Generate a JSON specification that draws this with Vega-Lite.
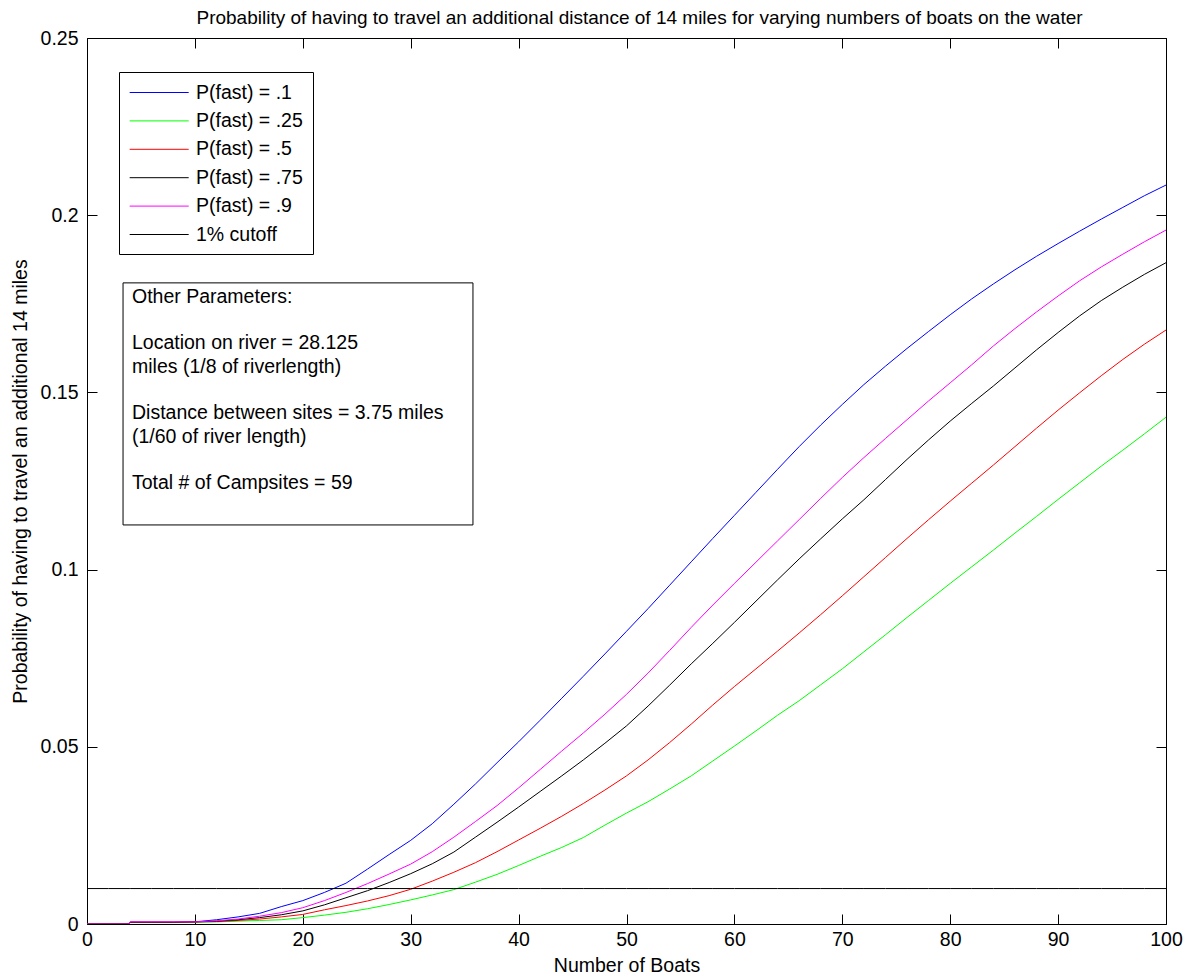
{
  "$schema": "https://vega.github.io/schema/vega-lite/v6.json",
  "width": 1079,
  "height": 886,
  "autosize": "none",
  "padding": {"left": 87, "top": 38, "right": 26, "bottom": 54},
  "background": "white",
  "config": {
    "font": "Liberation Sans",
    "view": {"stroke": "black", "strokeWidth": 1},
    "axis": {"labelColor": "black", "titleColor": "black", "domainColor": "black", "tickColor": "black", "labelFont": "Liberation Sans", "titleFont": "Liberation Sans", "titleFontWeight": "normal", "grid": false},
    "text": {"align": "left", "baseline": "top", "fontSize": 19.5, "lineHeight": 23.3, "font": "Liberation Sans", "color": "black"}
  },
  "title": {
    "text": "Probability of having to travel an additional distance of 14 miles for varying numbers of boats on the water",
    "fontSize": 19,
    "fontWeight": "normal",
    "font": "Liberation Sans",
    "color": "black",
    "anchor": "middle",
    "offset": 0,
    "dx": 13
  },
  "data": {
    "values": [
      {"b": 0, "f1": 0, "f25": 0, "f5": 0, "f75": 0, "f9": 0, "cut": 0.01},
      {"b": 2, "f1": 0, "f25": 0, "f5": 0, "f75": 0, "f9": 0, "cut": 0.01},
      {"b": 3.9, "f1": 0, "f25": 0, "f5": 0, "f75": 0, "f9": 0, "cut": 0.01},
      {"b": 4, "f1": 0.0005, "f25": 0.0004, "f5": 0.0005, "f75": 0.0005, "f9": 0.0006, "cut": 0.01},
      {"b": 6, "f1": 0.0005, "f25": 0.0004, "f5": 0.0005, "f75": 0.0005, "f9": 0.0006, "cut": 0.01},
      {"b": 8, "f1": 0.0005, "f25": 0.0004, "f5": 0.0005, "f75": 0.0005, "f9": 0.0006, "cut": 0.01},
      {"b": 10, "f1": 0.0006, "f25": 0.0005, "f5": 0.0006, "f75": 0.0006, "f9": 0.0006, "cut": 0.01},
      {"b": 12, "f1": 0.0012, "f25": 0.0006, "f5": 0.0007, "f75": 0.0008, "f9": 0.0009, "cut": 0.01},
      {"b": 14, "f1": 0.002, "f25": 0.0008, "f5": 0.001, "f75": 0.0012, "f9": 0.0014, "cut": 0.01},
      {"b": 16, "f1": 0.003, "f25": 0.001, "f5": 0.0014, "f75": 0.0018, "f9": 0.0022, "cut": 0.01},
      {"b": 18, "f1": 0.0049, "f25": 0.0012, "f5": 0.002, "f75": 0.0026, "f9": 0.0032, "cut": 0.01},
      {"b": 20, "f1": 0.0066, "f25": 0.0018, "f5": 0.0027, "f75": 0.0037, "f9": 0.0046, "cut": 0.01},
      {"b": 22, "f1": 0.0089, "f25": 0.0025, "f5": 0.004, "f75": 0.0054, "f9": 0.0066, "cut": 0.01},
      {"b": 24, "f1": 0.0115, "f25": 0.0033, "f5": 0.0052, "f75": 0.0074, "f9": 0.0089, "cut": 0.01},
      {"b": 26, "f1": 0.0155, "f25": 0.0043, "f5": 0.0065, "f75": 0.0094, "f9": 0.0114, "cut": 0.01},
      {"b": 28, "f1": 0.0196, "f25": 0.0055, "f5": 0.008, "f75": 0.0117, "f9": 0.0141, "cut": 0.01},
      {"b": 30, "f1": 0.0236, "f25": 0.0068, "f5": 0.0098, "f75": 0.0142, "f9": 0.0169, "cut": 0.01},
      {"b": 32, "f1": 0.0283, "f25": 0.0082, "f5": 0.0121, "f75": 0.017, "f9": 0.0204, "cut": 0.01},
      {"b": 34, "f1": 0.0338, "f25": 0.0097, "f5": 0.0146, "f75": 0.0203, "f9": 0.0245, "cut": 0.01},
      {"b": 36, "f1": 0.0395, "f25": 0.0118, "f5": 0.0173, "f75": 0.0245, "f9": 0.0289, "cut": 0.01},
      {"b": 38, "f1": 0.0455, "f25": 0.014, "f5": 0.0204, "f75": 0.0287, "f9": 0.0334, "cut": 0.01},
      {"b": 40, "f1": 0.0514, "f25": 0.0165, "f5": 0.0237, "f75": 0.033, "f9": 0.0384, "cut": 0.01},
      {"b": 42, "f1": 0.0575, "f25": 0.0191, "f5": 0.027, "f75": 0.0374, "f9": 0.0436, "cut": 0.01},
      {"b": 44, "f1": 0.0637, "f25": 0.0216, "f5": 0.0304, "f75": 0.0418, "f9": 0.0488, "cut": 0.01},
      {"b": 46, "f1": 0.0699, "f25": 0.0244, "f5": 0.034, "f75": 0.0463, "f9": 0.0539, "cut": 0.01},
      {"b": 48, "f1": 0.0762, "f25": 0.0279, "f5": 0.0378, "f75": 0.051, "f9": 0.0592, "cut": 0.01},
      {"b": 50, "f1": 0.0826, "f25": 0.0313, "f5": 0.0418, "f75": 0.0559, "f9": 0.0648, "cut": 0.01},
      {"b": 52, "f1": 0.089, "f25": 0.0345, "f5": 0.0463, "f75": 0.0615, "f9": 0.0708, "cut": 0.01},
      {"b": 54, "f1": 0.0956, "f25": 0.0381, "f5": 0.0512, "f75": 0.0674, "f9": 0.0772, "cut": 0.01},
      {"b": 56, "f1": 0.1022, "f25": 0.0418, "f5": 0.0564, "f75": 0.0734, "f9": 0.0837, "cut": 0.01},
      {"b": 58, "f1": 0.1088, "f25": 0.046, "f5": 0.0618, "f75": 0.0792, "f9": 0.09, "cut": 0.01},
      {"b": 60, "f1": 0.1153, "f25": 0.0502, "f5": 0.067, "f75": 0.0851, "f9": 0.0961, "cut": 0.01},
      {"b": 62, "f1": 0.1218, "f25": 0.0545, "f5": 0.072, "f75": 0.0911, "f9": 0.1021, "cut": 0.01},
      {"b": 64, "f1": 0.1283, "f25": 0.0589, "f5": 0.077, "f75": 0.0971, "f9": 0.1081, "cut": 0.01},
      {"b": 66, "f1": 0.1347, "f25": 0.063, "f5": 0.0821, "f75": 0.103, "f9": 0.1141, "cut": 0.01},
      {"b": 68, "f1": 0.1408, "f25": 0.0675, "f5": 0.0873, "f75": 0.1087, "f9": 0.1201, "cut": 0.01},
      {"b": 70, "f1": 0.1466, "f25": 0.072, "f5": 0.0926, "f75": 0.1143, "f9": 0.126, "cut": 0.01},
      {"b": 72, "f1": 0.1522, "f25": 0.0768, "f5": 0.098, "f75": 0.1197, "f9": 0.1316, "cut": 0.01},
      {"b": 74, "f1": 0.1574, "f25": 0.0816, "f5": 0.1034, "f75": 0.1254, "f9": 0.137, "cut": 0.01},
      {"b": 76, "f1": 0.1624, "f25": 0.0865, "f5": 0.1088, "f75": 0.1311, "f9": 0.1423, "cut": 0.01},
      {"b": 78, "f1": 0.1672, "f25": 0.0913, "f5": 0.1141, "f75": 0.1366, "f9": 0.1476, "cut": 0.01},
      {"b": 80, "f1": 0.1719, "f25": 0.0961, "f5": 0.1193, "f75": 0.1419, "f9": 0.1527, "cut": 0.01},
      {"b": 82, "f1": 0.1764, "f25": 0.1008, "f5": 0.1244, "f75": 0.1469, "f9": 0.1578, "cut": 0.01},
      {"b": 84, "f1": 0.1806, "f25": 0.1055, "f5": 0.1295, "f75": 0.1518, "f9": 0.1631, "cut": 0.01},
      {"b": 86, "f1": 0.1846, "f25": 0.1103, "f5": 0.1347, "f75": 0.1569, "f9": 0.168, "cut": 0.01},
      {"b": 88, "f1": 0.1884, "f25": 0.115, "f5": 0.1399, "f75": 0.162, "f9": 0.1727, "cut": 0.01},
      {"b": 90, "f1": 0.192, "f25": 0.1198, "f5": 0.145, "f75": 0.1669, "f9": 0.1772, "cut": 0.01},
      {"b": 92, "f1": 0.1955, "f25": 0.1245, "f5": 0.1499, "f75": 0.1716, "f9": 0.1815, "cut": 0.01},
      {"b": 94, "f1": 0.1989, "f25": 0.1292, "f5": 0.1547, "f75": 0.1759, "f9": 0.1854, "cut": 0.01},
      {"b": 96, "f1": 0.2022, "f25": 0.1337, "f5": 0.1593, "f75": 0.1797, "f9": 0.189, "cut": 0.01},
      {"b": 98, "f1": 0.2055, "f25": 0.1383, "f5": 0.1636, "f75": 0.1833, "f9": 0.1925, "cut": 0.01},
      {"b": 100, "f1": 0.2085, "f25": 0.143, "f5": 0.1676, "f75": 0.1866, "f9": 0.1958, "cut": 0.01}
    ]
  },
  "layer": [
    {
      "transform": [{"fold": ["f1", "f25", "f5", "f75", "f9", "cut"], "as": ["s", "p"]}],
      "mark": {"type": "line", "strokeWidth": 1, "clip": true},
      "encoding": {
        "x": {
          "field": "b", "type": "quantitative",
          "scale": {"domain": [0, 100], "nice": false, "zero": false},
          "axis": {"orient": "bottom", "title": "Number of Boats", "values": [0, 10, 20, 30, 40, 50, 60, 70, 80, 90, 100], "labelFontSize": 19.5, "titleFontSize": 19.5, "tickSize": 10, "offset": -10, "domain": false, "labelPadding": 6, "titlePadding": 8, "tickWidth": 1, "labelFlush": false}
        },
        "y": {
          "field": "p", "type": "quantitative",
          "scale": {"domain": [0, 0.25], "nice": false, "zero": true},
          "axis": {"orient": "left", "title": "Probability of having to travel an additional 14 miles", "values": [0, 0.05, 0.1, 0.15, 0.2, 0.25], "format": "~g", "labelFontSize": 19.5, "titleFontSize": 19.5, "tickSize": 10, "offset": -10, "domain": false, "labelPadding": 9, "titlePadding": 10, "tickWidth": 1, "labelFlush": false}
        },
        "color": {
          "field": "s", "type": "nominal",
          "scale": {"domain": ["f1", "f25", "f5", "f75", "f9", "cut"], "range": ["#0000ff", "#00ff00", "#ff0000", "#000000", "#ff00ff", "#000000"]},
          "sort": ["f1", "f25", "f5", "f75", "f9", "cut"],
          "legend": {
            "title": null,
            "orient": "none",
            "legendX": 32,
            "legendY": 34,
            "direction": "vertical",
            "symbolType": "M-1,0H5",
            "symbolSize": 387,
            "symbolStrokeWidth": 1,
            "labelFontSize": 19.5,
            "labelColor": "black",
            "labelFont": "Liberation Sans",
            "labelExpr": "{'f1': 'P(fast) = .1', 'f25': 'P(fast) = .25', 'f5': 'P(fast) = .5', 'f75': 'P(fast) = .75', 'f9': 'P(fast) = .9', 'cut': '1% cutoff'}[datum.label]",
            "strokeColor": "black",
            "fillColor": "white",
            "padding": 10,
            "rowPadding": 8.4,
            "labelOffset": 46
          }
        }
      }
    },
    {
      "data": {"values": [{}]},
      "mark": {"type": "rect", "fill": "white", "stroke": "black", "strokeWidth": 1},
      "encoding": {
        "x": {"datum": 3.34, "type": "quantitative", "axis": {"orient": "top", "title": null, "labels": false, "values": [0, 10, 20, 30, 40, 50, 60, 70, 80, 90, 100], "tickSize": 10, "offset": -10, "domain": false, "tickColor": "black", "tickWidth": 1}},
        "x2": {"datum": 35.77},
        "y": {"datum": 0.1809, "type": "quantitative", "axis": {"orient": "right", "title": null, "labels": false, "values": [0, 0.05, 0.1, 0.15, 0.2, 0.25], "tickSize": 10, "offset": -10, "domain": false, "tickColor": "black", "tickWidth": 1}},
        "y2": {"datum": 0.1126}
      }
    },
    {
      "data": {"values": [{}]},
      "mark": {"type": "text"},
      "encoding": {
        "x": {"datum": 4.17, "type": "quantitative", "axis": null},
        "y": {"datum": 0.1795, "type": "quantitative", "axis": null},
        "text": {"value": "Other Parameters:"}
      }
    },
    {
      "data": {"values": [{}]},
      "mark": {"type": "text"},
      "encoding": {
        "x": {"datum": 4.17, "type": "quantitative", "axis": null},
        "y": {"datum": 0.16635, "type": "quantitative", "axis": null},
        "text": {"value": ["Location on river = 28.125", "miles (1/8 of riverlength)"]}
      }
    },
    {
      "data": {"values": [{}]},
      "mark": {"type": "text"},
      "encoding": {
        "x": {"datum": 4.17, "type": "quantitative", "axis": null},
        "y": {"datum": 0.14663, "type": "quantitative", "axis": null},
        "text": {"value": ["Distance between sites = 3.75 miles", "(1/60 of river length)"]}
      }
    },
    {
      "data": {"values": [{}]},
      "mark": {"type": "text"},
      "encoding": {
        "x": {"datum": 4.17, "type": "quantitative", "axis": null},
        "y": {"datum": 0.12691, "type": "quantitative", "axis": null},
        "text": {"value": "Total # of Campsites = 59"}
      }
    }
  ]
}
